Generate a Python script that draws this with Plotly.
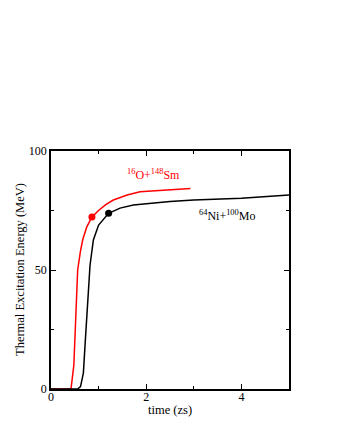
import plotly.graph_objects as go

# 16O + 148Sm (red)
sm_time = [0, 0.42, 0.48, 0.52, 0.56, 0.62, 0.67, 0.75, 0.86, 1.0, 1.15, 1.31, 1.6, 1.87, 2.4, 2.93]
sm_energy = [0, 0, 10, 30, 50, 58, 63, 68, 72.3, 75, 77.5, 79.4, 81.5, 82.9, 83.7, 84.2]
sm_dot = ([0.86], [72.3])

# 64Ni + 100Mo (black)
mo_time = [0, 0.56, 0.62, 0.68, 0.72, 0.76, 0.82, 0.89, 1.0, 1.21, 1.45, 1.73, 2.08, 2.5, 3.0, 4.0, 5.0]
mo_energy = [0, 0, 1, 6.7, 20, 34.6, 52, 62.6, 68.9, 73.8, 76, 77.3, 78, 78.8, 79.4, 80.1, 81.5]
mo_dot = ([1.21], [73.8])

FONT = "Liberation Serif, Times New Roman, serif"

fig = go.Figure()
fig.add_trace(go.Scatter(x=sm_time, y=sm_energy, mode="lines",
                         line=dict(color="red", width=1.5), showlegend=False))
fig.add_trace(go.Scatter(x=mo_time, y=mo_energy, mode="lines",
                         line=dict(color="black", width=1.5), showlegend=False))
fig.add_trace(go.Scatter(x=sm_dot[0], y=sm_dot[1], mode="markers",
                         marker=dict(color="red", size=7), showlegend=False))
fig.add_trace(go.Scatter(x=mo_dot[0], y=mo_dot[1], mode="markers",
                         marker=dict(color="black", size=7), showlegend=False))

# reaction labels
fig.add_annotation(x=2.15, y=90.3, text="<sup>16</sup>O+<sup>148</sup>Sm",
                   showarrow=False, font=dict(color="red", size=12, family=FONT))
fig.add_annotation(x=3.69, y=73.1, text="<sup>64</sup>Ni+<sup>100</sup>Mo",
                   showarrow=False, font=dict(color="black", size=12, family=FONT))

# axis titles placed by hand so they sit close to the frame
fig.add_annotation(xref="paper", yref="paper", x=0.5, y=0, yshift=-21,
                   xanchor="center", yanchor="middle",
                   text="time (zs)", showarrow=False,
                   font=dict(family=FONT, size=12.5, color="black"))
fig.add_annotation(xref="paper", yref="paper", x=0, y=0.5, xshift=-31,
                   xanchor="center", yanchor="middle",
                   text="Thermal Excitation Energy (MeV)", textangle=-90,
                   showarrow=False, font=dict(family=FONT, size=12.5, color="black"))

axis_common = dict(showgrid=False, zeroline=False, showline=True, linecolor="black",
                   linewidth=1.5, mirror="ticks", ticks="inside", ticklen=5,
                   tickwidth=1.2, tickcolor="black", automargin=False,
                   tickfont=dict(family=FONT, size=12, color="black"))

fig.update_xaxes(range=[0, 5], tickvals=[0, 2, 4], ticklabelstandoff=-4,
                 minor=dict(tickvals=[1, 3], ticks="inside", ticklen=3, tickcolor="black"),
                 **axis_common)
fig.update_yaxes(range=[0, 100], tickvals=[0, 50, 100],
                 minor=dict(tickvals=[25, 75], ticks="inside", ticklen=3, tickcolor="black"),
                 **axis_common)

# page body adds an 8px offset, so margins are shifted to compensate
fig.update_layout(width=340, height=440,
                  margin=dict(l=43, r=59, t=143, b=59),
                  plot_bgcolor="white", paper_bgcolor="white",
                  font=dict(family=FONT))

fig.write_html("out.html")
